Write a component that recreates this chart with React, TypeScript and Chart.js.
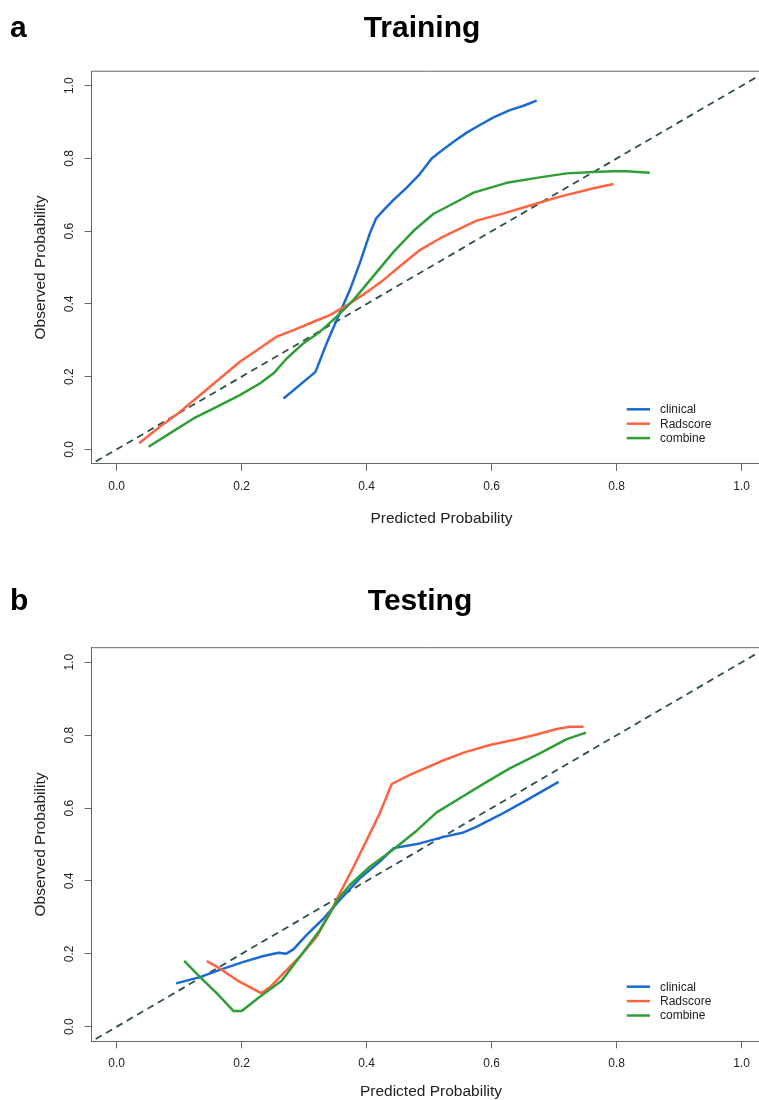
import React, { useEffect, useRef } from "react";
import { Chart, registerables } from "chart.js";
Chart.register(...registerables);

const FONT = '"Liberation Sans", Arial, Helvetica, sans-serif';

const seriesNames = ["clinical", "Radscore", "combine"];
const seriesColors = ["#1A6AD2", "#FF6340", "#2F9E35"];
const tickValues = [0, 0.2, 0.4, 0.6, 0.8, 1.0];
const diagonal = [-0.1, 1.1];

// Training
const trainClinicalX = [0.267, 0.309, 0.318, 0.336, 0.352, 0.373, 0.389, 0.405, 0.415, 0.427, 0.443, 0.464, 0.485, 0.504, 0.517, 0.539, 0.560, 0.581, 0.603, 0.629, 0.651, 0.672];
const trainClinicalY = [0.140, 0.200, 0.213, 0.292, 0.356, 0.438, 0.512, 0.594, 0.635, 0.658, 0.686, 0.720, 0.757, 0.800, 0.818, 0.846, 0.871, 0.892, 0.913, 0.933, 0.945, 0.959];
const trainRadX = [0.036, 0.069, 0.101, 0.133, 0.165, 0.197, 0.229, 0.256, 0.283, 0.315, 0.341, 0.373, 0.405, 0.427, 0.459, 0.485, 0.517, 0.544, 0.576, 0.619, 0.664, 0.709, 0.763, 0.795];
const trainRadY = [0.017, 0.062, 0.103, 0.149, 0.195, 0.241, 0.278, 0.310, 0.328, 0.351, 0.369, 0.401, 0.438, 0.466, 0.512, 0.548, 0.580, 0.603, 0.629, 0.649, 0.672, 0.695, 0.718, 0.730];
const trainCombX = [0.051, 0.085, 0.123, 0.160, 0.197, 0.229, 0.251, 0.272, 0.299, 0.325, 0.352, 0.379, 0.411, 0.443, 0.475, 0.507, 0.544, 0.571, 0.624, 0.677, 0.720, 0.763, 0.795, 0.816, 0.853];
const trainCombY = [0.007, 0.044, 0.085, 0.117, 0.149, 0.181, 0.209, 0.250, 0.292, 0.323, 0.365, 0.411, 0.477, 0.543, 0.601, 0.648, 0.681, 0.706, 0.733, 0.748, 0.759, 0.763, 0.765, 0.765, 0.761];

// Testing
const testClinicalX = [0.095, 0.133, 0.165, 0.203, 0.235, 0.259, 0.271, 0.283, 0.304, 0.331, 0.357, 0.389, 0.421, 0.443, 0.485, 0.523, 0.555, 0.576, 0.613, 0.656, 0.707];
const testClinicalY = [0.119, 0.136, 0.156, 0.178, 0.194, 0.203, 0.200, 0.213, 0.252, 0.297, 0.348, 0.407, 0.453, 0.490, 0.503, 0.521, 0.533, 0.549, 0.581, 0.622, 0.672];
const testRadX = [0.144, 0.165, 0.192, 0.219, 0.231, 0.245, 0.267, 0.293, 0.320, 0.341, 0.357, 0.379, 0.400, 0.421, 0.440, 0.469, 0.517, 0.555, 0.597, 0.640, 0.672, 0.704, 0.725, 0.747];
const testRadY = [0.180, 0.160, 0.128, 0.103, 0.092, 0.108, 0.147, 0.192, 0.247, 0.311, 0.366, 0.439, 0.512, 0.586, 0.666, 0.691, 0.727, 0.752, 0.773, 0.789, 0.802, 0.817, 0.823, 0.823];
const testCombX = [0.108, 0.133, 0.160, 0.187, 0.200, 0.229, 0.264, 0.293, 0.325, 0.341, 0.355, 0.373, 0.405, 0.443, 0.480, 0.512, 0.549, 0.592, 0.629, 0.677, 0.720, 0.751];
const testCombY = [0.181, 0.137, 0.092, 0.043, 0.043, 0.082, 0.126, 0.192, 0.265, 0.311, 0.352, 0.389, 0.439, 0.487, 0.538, 0.588, 0.627, 0.672, 0.709, 0.750, 0.789, 0.807];

const CANVAS_W = 775;
const CANVAS_H = 550;
const AREA_LEFT = 91.7;
const AREA_RIGHT = 766.7;

type PanelProps = {
  top: number;
  boxTop: number;
  boxBottom: number;
  letter: string;
  title: string;
  titleX: number;
  titleBaseline: number;
  xTitleX: number;
  xTitleBaseline: number;
  xs: number[][];
  ys: number[][];
};

const decorPlugin = {
  id: "decor",
  afterDraw(chart: any, _args: any, o: any) {
    const { ctx, chartArea: a } = chart;
    ctx.save();
    ctx.strokeStyle = "#666";
    ctx.lineWidth = 1;
    ctx.beginPath();
    ctx.moveTo(a.left, a.top);
    ctx.lineTo(a.right, a.top);
    ctx.lineTo(a.right, a.bottom);
    ctx.stroke();
    ctx.fillStyle = "#000";
    ctx.font = `bold 30px ${FONT}`;
    ctx.textBaseline = "alphabetic";
    ctx.textAlign = "left";
    ctx.fillText(o.letter, 10, o.titleBaseline);
    ctx.textAlign = "center";
    ctx.fillText(o.title, o.titleX, o.titleBaseline);
    ctx.fillStyle = "#222";
    ctx.font = `15.5px ${FONT}`;
    ctx.fillText("Predicted Probability", o.xTitleX, o.xTitleBaseline);
    ctx.font = `12px ${FONT}`;
    ctx.textAlign = "left";
    ctx.textBaseline = "middle";
    const y0 = a.bottom - 54.6;
    seriesNames.forEach((name, i) => {
      const y = y0 + i * 14.4;
      ctx.strokeStyle = seriesColors[i];
      ctx.lineWidth = 2.5;
      ctx.beginPath();
      ctx.moveTo(626.7, y);
      ctx.lineTo(650, y);
      ctx.stroke();
      ctx.fillStyle = "#222";
      ctx.fillText(name, 660, y + 0.5);
    });
    ctx.restore();
  },
};

function Panel(p: PanelProps) {
  const ref = useRef<HTMLCanvasElement | null>(null);
  useEffect(() => {
    if (!ref.current) return;
    const datasets: any[] = [
      {
        label: "diag",
        data: diagonal.map((v) => ({ x: v, y: v })),
        borderColor: "#2F4F4F",
        borderWidth: 1.8,
        borderDash: [7, 5],
        pointRadius: 0,
        fill: false,
        clip: 0,
        order: 10,
      },
      ...seriesNames.map((name, i) => ({
        label: name,
        data: p.xs[i].map((x, j) => ({ x, y: p.ys[i][j] })),
        borderColor: seriesColors[i],
        borderWidth: 2.5,
        pointRadius: 0,
        fill: false,
        tension: 0,
        borderJoinStyle: "round",
        borderCapStyle: "butt",
        clip: 0,
        order: 3 - i,
      })),
    ];
    const axisCommon = {
      type: "linear",
      min: -0.04,
      max: 1.04,
      afterBuildTicks: (s: any) => {
        s.ticks = tickValues.map((v) => ({ value: v }));
      },
      grid: {
        display: true,
        drawOnChartArea: false,
        drawTicks: true,
        tickLength: 7,
        color: "#666",
        lineWidth: 1,
      },
      border: { display: true, color: "#666", width: 1 },
    };
    const chart = new Chart(ref.current, {
      type: "line",
      data: { datasets },
      options: {
        animation: false,
        responsive: false,
        devicePixelRatio: 1,
        layout: {
          padding: { top: p.boxTop, right: CANVAS_W - AREA_RIGHT, left: 0, bottom: 0 },
        },
        plugins: {
          legend: { display: false },
          tooltip: { enabled: false },
          title: { display: false },
          decor: {
            letter: p.letter,
            title: p.title,
            titleX: p.titleX,
            titleBaseline: p.titleBaseline,
            xTitleX: p.xTitleX,
            xTitleBaseline: p.xTitleBaseline,
          },
        } as any,
        scales: {
          x: {
            ...axisCommon,
            position: "bottom",
            afterFit: (s: any) => {
              s.height = CANVAS_H - p.boxBottom;
            },
            ticks: {
              autoSkip: false,
              maxRotation: 0,
              minRotation: 0,
              padding: 8.6,
              color: "#222",
              font: { family: FONT, size: 12 },
              callback: (v: any) => Number(v).toFixed(1),
            },
          },
          y: {
            ...axisCommon,
            position: "left",
            afterFit: (s: any) => {
              s.width = AREA_LEFT;
            },
            title: {
              display: true,
              text: "Observed Probability",
              color: "#222",
              font: { family: FONT, size: 15.5 },
              padding: { top: 31.7, bottom: 0 },
            },
            ticks: {
              autoSkip: false,
              minRotation: 90,
              maxRotation: 90,
              crossAlign: "center",
              padding: 6.3,
              color: "#222",
              font: { family: FONT, size: 12 },
              callback: (v: any) => Number(v).toFixed(1),
            },
          },
        } as any,
      },
      plugins: [decorPlugin as any],
    });
    return () => chart.destroy();
  }, []);
  return (
    <canvas
      ref={ref}
      width={CANVAS_W}
      height={CANVAS_H}
      style={{ position: "absolute", left: 0, top: p.top, width: CANVAS_W, height: CANVAS_H }}
    />
  );
}

export default function App() {
  return (
    <div
      style={{
        position: "absolute",
        left: 0,
        top: 0,
        width: 759,
        height: 1100,
        overflow: "hidden",
        background: "#fff",
      }}
    >
      <Panel
        top={0}
        boxTop={71.2}
        boxBottom={463.9}
        letter="a"
        title="Training"
        titleX={422}
        titleBaseline={37}
        xTitleX={441.5}
        xTitleBaseline={523.3}
        xs={[trainClinicalX, trainRadX, trainCombX]}
        ys={[trainClinicalY, trainRadY, trainCombY]}
      />
      <Panel
        top={550}
        boxTop={97.7}
        boxBottom={491.3}
        letter="b"
        title="Testing"
        titleX={420}
        titleBaseline={59.5}
        xTitleX={431}
        xTitleBaseline={546}
        xs={[testClinicalX, testRadX, testCombX]}
        ys={[testClinicalY, testRadY, testCombY]}
      />
    </div>
  );
}
